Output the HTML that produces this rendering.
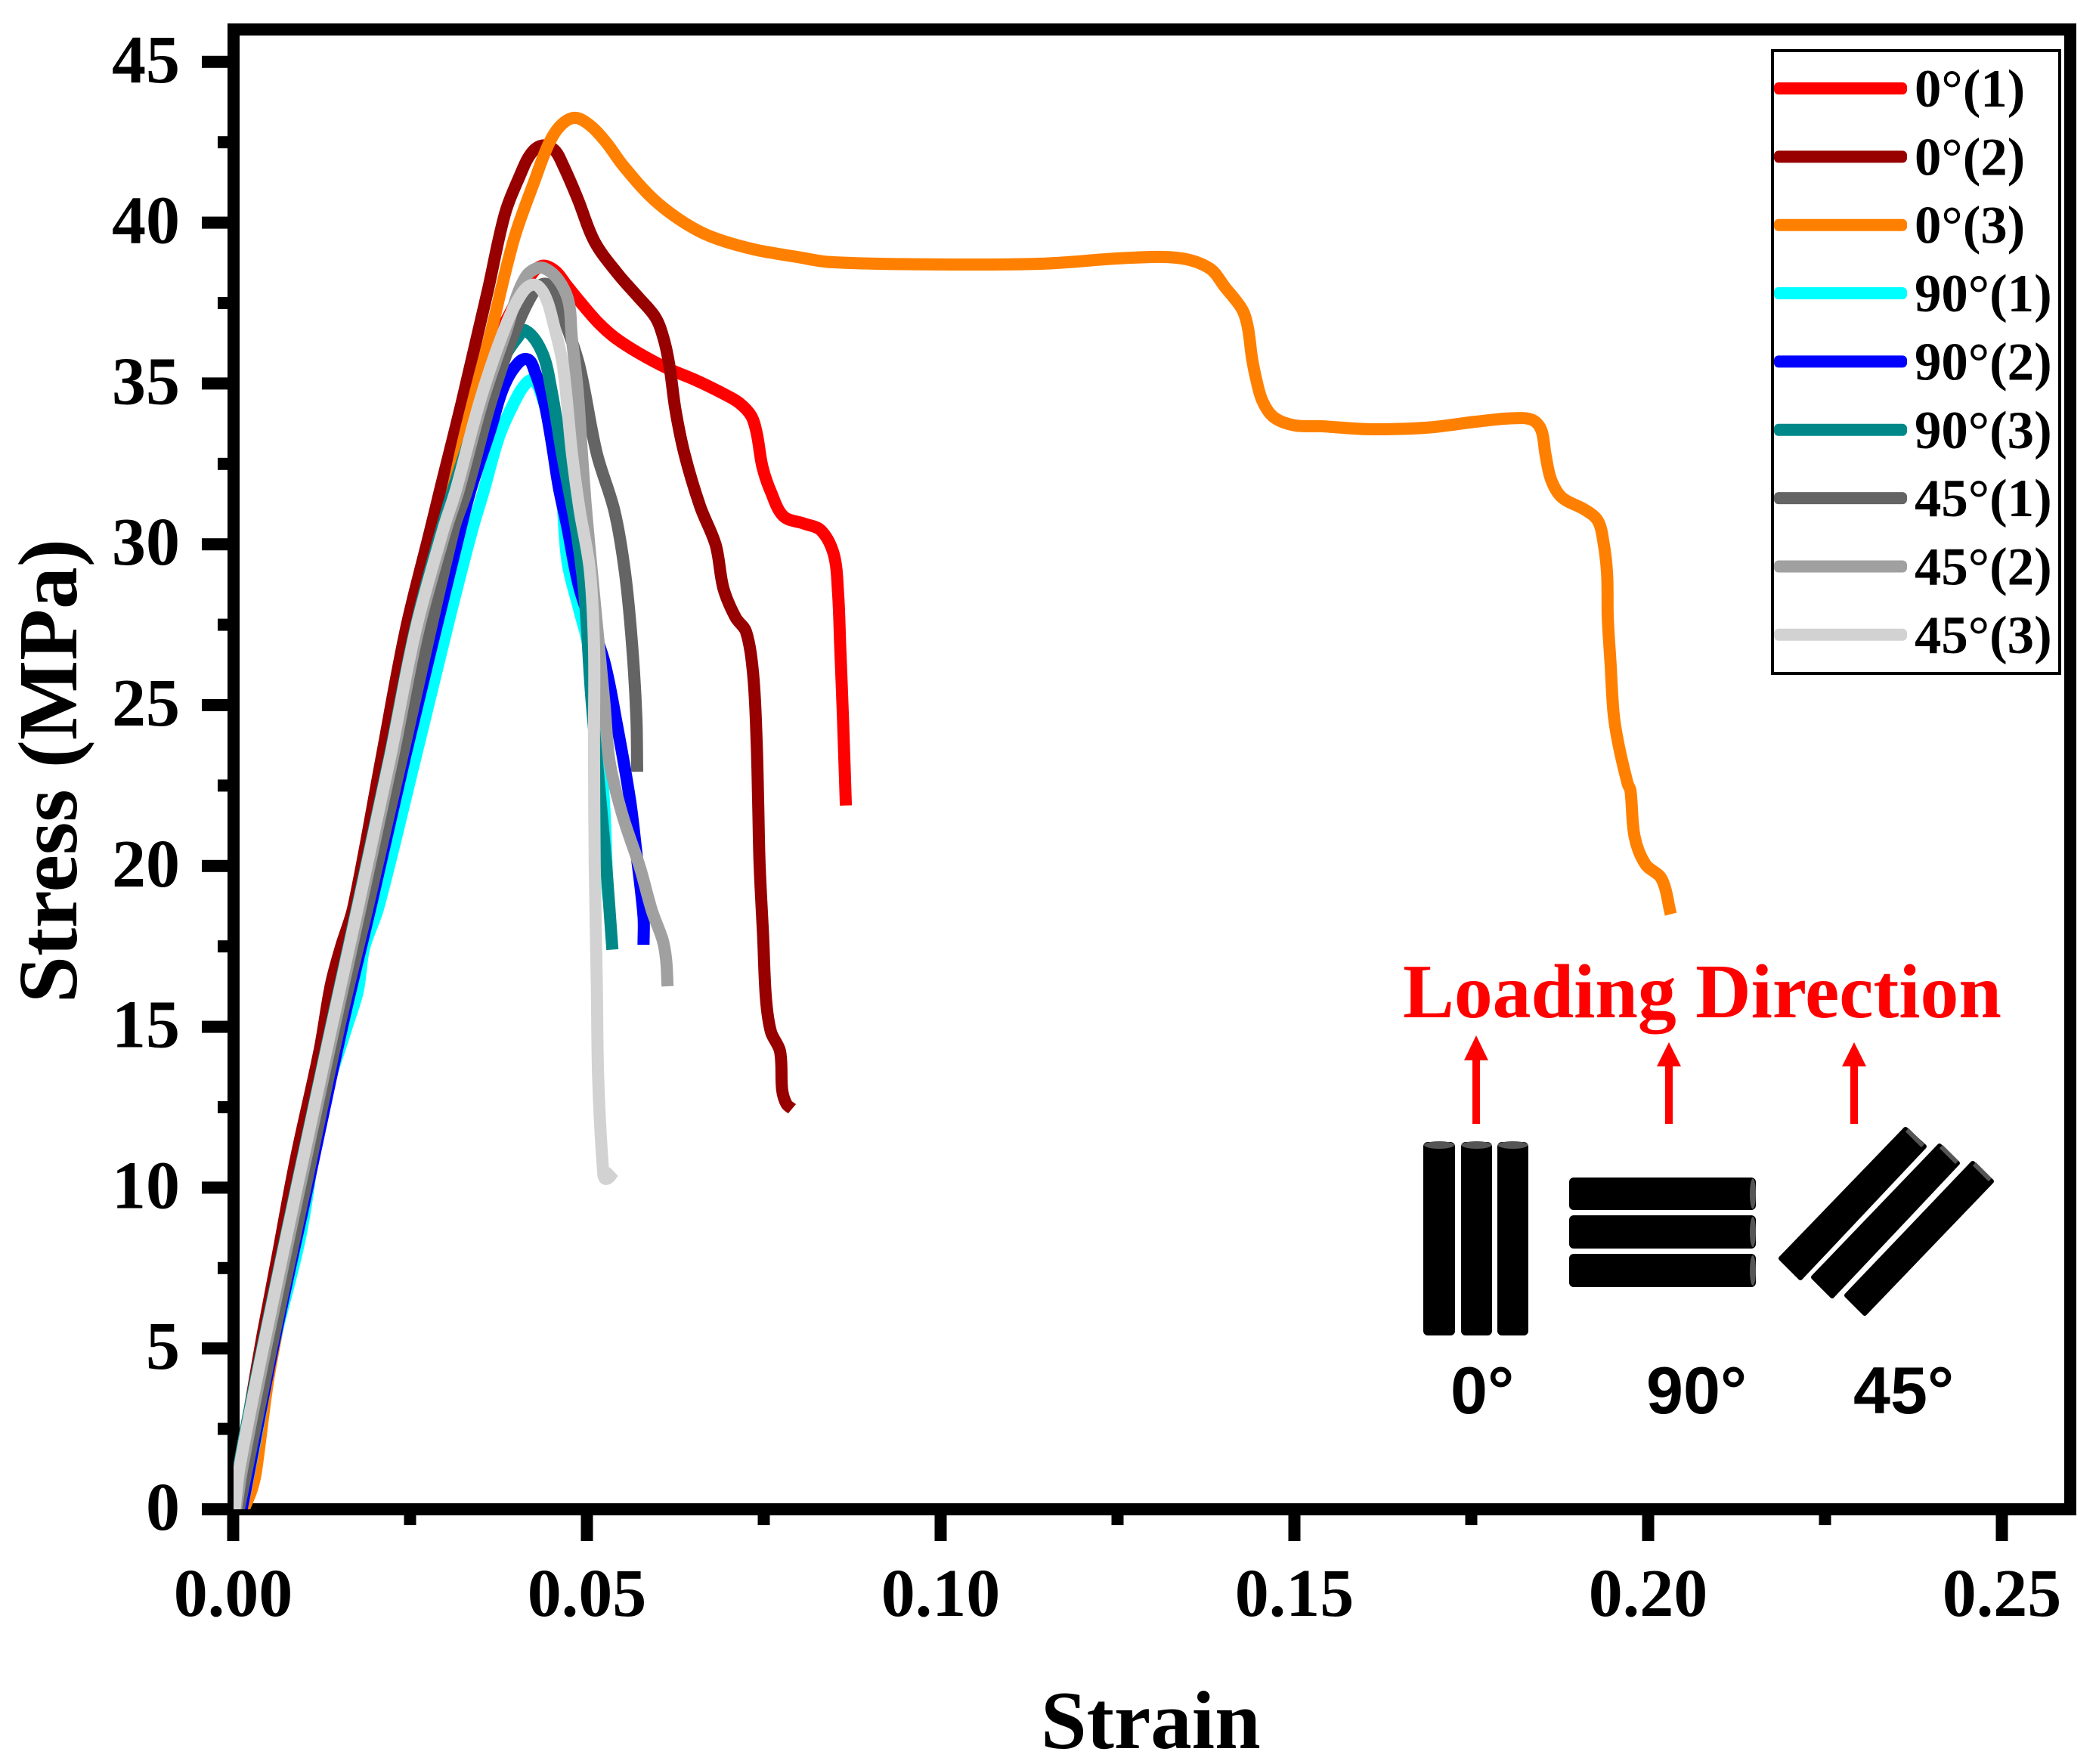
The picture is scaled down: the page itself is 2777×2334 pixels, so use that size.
<!DOCTYPE html>
<html lang="en">
<head>
<meta charset="utf-8">
<title>Stress-strain curves</title>
<style>
html,body{margin:0;padding:0;background:#fff;width:2777px;height:2334px;overflow:hidden}
svg{display:block}
text{font-family:"Liberation Serif",serif;font-weight:bold;fill:#000}
.sans{font-family:"Liberation Sans",sans-serif}
</style>
</head>
<body>
<svg id="chart" xmlns="http://www.w3.org/2000/svg" width="2777" height="2334" viewBox="0 0 2777 2334">
  <rect x="0" y="0" width="2777" height="2334" fill="#fff"/>
  <defs>
    <clipPath id="plot-clip"><rect x="309" y="39" width="2430" height="1958"/></clipPath>
  </defs>
  <g id="axes"></g>
  <g id="curves" clip-path="url(#plot-clip)"></g>
  <g id="legend"></g>
  <text x="1377" y="2313" font-size="109">Strain</text>
  <text transform="translate(101,1020) rotate(-90)" text-anchor="middle" font-size="111.5">Stress (MPa)</text>

  <g>
    <text x="1856" y="1346" font-size="101.7" style="fill:#ff0000">Loading Direction</text>
    <g fill="#ff0000">
      <rect x="1948" y="1400" width="10" height="87"/><polygon points="1953,1370 1969,1403 1937,1403"/>
    </g>
    <g fill="#ff0000">
      <rect x="2203" y="1408" width="10" height="79"/><polygon points="2208,1379 2224,1411 2192,1411"/>
    </g>
    <g fill="#ff0000">
      <rect x="2448" y="1408" width="10" height="79"/><polygon points="2453,1379 2469,1411 2437,1411"/>
    </g>
    <g>
      <rect x="1883" y="1511" width="42" height="256" rx="6" fill="#000"/>
      <rect x="1933" y="1511" width="41" height="256" rx="6" fill="#000"/>
      <rect x="1981" y="1511" width="41" height="256" rx="6" fill="#000"/>
      <ellipse cx="1904" cy="1515" rx="20" ry="5" fill="#555"/>
      <ellipse cx="1953.5" cy="1515" rx="20" ry="5" fill="#555"/>
      <ellipse cx="2001.5" cy="1515" rx="20" ry="5" fill="#555"/>
    </g>
    <g>
      <rect x="2076" y="1558" width="247" height="43" rx="6" fill="#000"/>
      <rect x="2076" y="1608" width="247" height="44" rx="6" fill="#000"/>
      <rect x="2076" y="1659" width="247" height="44" rx="6" fill="#000"/>
      <ellipse cx="2319" cy="1579.5" rx="4" ry="20" fill="#555"/>
      <ellipse cx="2319" cy="1630" rx="4" ry="20" fill="#555"/>
      <ellipse cx="2319" cy="1681" rx="4" ry="20" fill="#555"/>
    </g>
    <g stroke-linejoin="round">
      <polygon points="2521,1494 2546,1517 2382,1691 2356,1665" fill="#000" stroke="#000" stroke-width="6"/>
      <polygon points="2566,1516 2590,1539 2424,1715 2399,1690" fill="#000" stroke="#000" stroke-width="6"/>
      <polygon points="2610,1539 2635,1563 2467,1738 2443,1714" fill="#000" stroke="#000" stroke-width="6"/>
      <line x1="2523" y1="1495" x2="2544" y2="1516" stroke="#555" stroke-width="6"/>
      <line x1="2568" y1="1517" x2="2589" y2="1538" stroke="#555" stroke-width="6"/>
      <line x1="2612" y1="1540" x2="2633" y2="1561" stroke="#555" stroke-width="6"/>
    </g>
    <text class="sans" x="1919" y="1870" font-size="88">0°</text>
    <text class="sans" x="2178" y="1870" font-size="88">90°</text>
    <text class="sans" x="2452" y="1870" font-size="88">45°</text>
  </g>
</svg>
<script>
// ---- axis tick data ----
const xMajorTicks = [0, 0.05, 0.10, 0.15, 0.20, 0.25];
const xTickLabels = ["0.00", "0.05", "0.10", "0.15", "0.20", "0.25"];
const xMinorTicks = [0.025, 0.075, 0.125, 0.175, 0.225];
const yMajorTicks = [0, 5, 10, 15, 20, 25, 30, 35, 40, 45];
const yTickLabels = ["0", "5", "10", "15", "20", "25", "30", "35", "40", "45"];
const yMinorTicks = [2.5, 7.5, 12.5, 17.5, 22.5, 27.5, 32.5, 37.5, 42.5];

// ---- series data ----
const seriesNames = ["0°(1)", "0°(2)", "0°(3)", "90°(1)", "90°(2)", "90°(3)", "45°(1)", "45°(2)", "45°(3)"];
const seriesColors = ["#ff0000", "#980000", "#ff8000", "#00ffff", "#0000ff", "#008888", "#646464", "#a0a0a0", "#d2d2d2"];

const strain01 = [0.0002,0.0008,0.0041,0.0089,0.0138,0.0176,0.0221,0.0257,0.0297,0.0335,0.0365,0.0388,0.0405,0.0415,0.0435,0.0455,0.0471,0.0491,0.0516,0.054,0.0573,0.0613,0.0654,0.0695,0.0715,0.0732,0.074,0.0748,0.076,0.0778,0.0806,0.0831,0.0849,0.0855,0.0858,0.0862,0.0866];
const stress01 = [0,1.3,5,10,15,18.8,23.4,27.35,30.9,34.3,36.1,37.05,37.76,38.18,38.65,38.5,38.06,37.52,36.89,36.42,35.95,35.48,35.1,34.66,34.4,34,33.46,32.42,31.63,30.87,30.65,30.43,29.68,28.48,26.83,24.58,21.88];

const strain02 = [0,0.0023,0.0042,0.0063,0.0088,0.0122,0.0138,0.0152,0.017,0.021,0.0244,0.0279,0.0292,0.0323,0.036,0.0384,0.0405,0.0421,0.0437,0.0454,0.0466,0.0487,0.0511,0.0544,0.0572,0.0597,0.0609,0.0617,0.0625,0.0638,0.066,0.0682,0.0693,0.071,0.0725,0.0735,0.074,0.0742,0.0744,0.0749,0.0753,0.076,0.0773,0.0776,0.0782,0.079];
const stress02 = [0,3.05,5.47,7.9,10.83,14.26,16.3,17.46,18.73,23.4,27.35,30.47,31.65,34.4,37.9,40.26,41.45,42.15,42.4,42.26,41.8,40.74,39.4,38.4,37.7,37.05,36.35,35.5,34.2,32.8,31.18,29.98,28.63,27.73,27.28,25.94,23.83,22.04,20.09,17.83,15.9,14.85,14.24,13.04,12.6,12.45];

const strain03 = [0.0015,0.0026,0.0032,0.005,0.0071,0.0087,0.02,0.0321,0.0366,0.0397,0.0426,0.0446,0.0462,0.0482,0.0503,0.0527,0.0552,0.0593,0.0634,0.0675,0.0736,0.0798,0.0846,0.1002,0.1148,0.1261,0.1337,0.138,0.1402,0.1426,0.1434,0.144,0.1446,0.1455,0.1471,0.15,0.1539,0.1601,0.1654,0.1699,0.1756,0.1809,0.1836,0.1849,0.1855,0.1863,0.1878,0.1911,0.1929,0.1937,0.1942,0.1943,0.1947,0.1951,0.1957,0.1971,0.1975,0.1981,0.1996,0.2019,0.2032];
const stress03 = [0,0.6,1.15,4.1,6.5,8.15,20.3,32.8,36.75,39.5,41.3,42.45,43,43.26,43.05,42.5,41.75,40.75,40.05,39.57,39.17,38.93,38.77,38.7,38.73,38.9,38.9,38.58,37.99,37.31,36.77,35.8,35.13,34.45,33.95,33.7,33.67,33.58,33.59,33.65,33.81,33.92,33.87,33.55,32.78,32,31.46,31.07,30.73,30.05,29.08,27.71,26.25,24.79,23.9,22.56,22.35,20.9,20.06,19.6,18.5];

const strain901 = [0.0012,0.003,0.0056,0.0095,0.0124,0.0159,0.0176,0.0185,0.0205,0.0258,0.0306,0.0338,0.0354,0.0376,0.0397,0.0413,0.0425,0.0438,0.045,0.0462,0.0472,0.049,0.0502,0.0523,0.0529,0.0531];
const stress901 = [0,2,5,8.5,12.35,14.9,16.1,17.45,18.7,23.4,27.73,30.47,31.65,33.36,34.4,34.98,35.1,34.5,33.5,32.38,29.53,27.9,26.83,22.35,19.34,18.9];

const strain902 = [0.0012,0.0056,0.0105,0.0154,0.0195,0.0243,0.0321,0.0337,0.0364,0.038,0.0397,0.0415,0.0427,0.044,0.045,0.046,0.0472,0.049,0.0524,0.0542,0.0561,0.057,0.058,0.058];
const stress902 = [0,5,10,15,18.8,23.4,30.47,31.8,33.6,34.77,35.48,35.76,35.33,34.4,33.2,31.8,30.57,28.6,26.39,24.44,22.04,20.4,18.44,17.55];

const strain903 = [0.0003,0.0008,0.0041,0.0089,0.0138,0.0176,0.0221,0.0257,0.03,0.033,0.0365,0.0388,0.0401,0.0413,0.0437,0.045,0.0465,0.0486,0.0497,0.0506,0.0518,0.0527,0.0536];
const stress903 = [0,1.3,5,10,15,18.8,23.4,27.35,30.9,33,35.2,36,36.4,36.65,35.95,34.77,32.8,30.3,28.3,25.3,22.35,20.1,17.4];

const strain451 = [0.0008,0.0054,0.0102,0.015,0.0191,0.0239,0.0312,0.0331,0.0364,0.0396,0.0425,0.0442,0.0454,0.0466,0.0489,0.0514,0.0539,0.0554,0.0564,0.057,0.0571];
const stress451 = [0,5,10,15,18.8,23.4,30.47,31.7,34.4,36.5,37.85,38.1,37.76,37.1,35.57,32.82,31.03,29.1,26.83,24.58,22.93];

const strain452 = [0.0004,0.0013,0.0046,0.0094,0.0143,0.0181,0.0226,0.0262,0.0301,0.0319,0.0352,0.0384,0.0413,0.044,0.0471,0.0479,0.0487,0.0493,0.0498,0.0504,0.0525,0.0532,0.055,0.0575,0.0592,0.0607,0.0612,0.0614];
const stress452 = [0,1.3,5,10,15,18.8,23.4,27.35,30.47,31.7,34.4,36.5,38.3,38.58,37.76,36.35,34.77,32.82,31.3,29.83,25,23.24,21.6,19.95,18.6,17.7,17.08,16.26];

const strain453 = [0.0002,0.0009,0.0042,0.009,0.0139,0.0177,0.0222,0.0258,0.0297,0.0315,0.0348,0.038,0.0405,0.0424,0.044,0.0454,0.0466,0.0479,0.049,0.0504,0.051,0.051,0.0511,0.0514,0.0516,0.0523,0.0527,0.0538];
const stress453 = [0,1.3,5,10,15,18.8,23.4,27.35,30.47,31.7,34.4,36.5,37.7,38.07,37.76,36.75,35.57,32.8,31.03,29.23,26.83,23.83,20.09,16.34,13.35,10.5,10.27,10.5];

const strainSeries = [strain01, strain02, strain03, strain901, strain902, strain903, strain451, strain452, strain453];
const stressSeries = [stress01, stress02, stress03, stress901, stress902, stress903, stress451, stress452, stress453];

// ---- axis functions ----
function xScale(v) { return 308.5 + 9360 * v; }
function yScale(v) { return 1997 - 42.56 * v; }

const NS = "http://www.w3.org/2000/svg";
function make(tag, parent, attrs) {
  const el = document.createElementNS(NS, tag);
  for (const k in attrs) el.setAttribute(k, attrs[k]);
  parent.appendChild(el);
  return el;
}
const axes = document.getElementById("axes");
const curves = document.getElementById("curves");
const legend = document.getElementById("legend");

// frame
const leftSpine = make("rect", axes, {x: 301, y: 31, width: 16, height: 1974, fill: "#000"});


const bottomSpine = make("rect", axes, {x: 301, y: 1989, width: 2446, height: 16, fill: "#000"});


const topSpine = make("rect", axes, {x: 301, y: 31, width: 2446, height: 16, fill: "#000"});


const rightSpine = make("rect", axes, {x: 2731, y: 31, width: 16, height: 1974, fill: "#000"});



// x ticks
xMajorTicks.forEach(function (v, i) {
  const t = make("rect", axes, {x: xScale(v) - 8, y: 2005, width: 16, height: 34, fill: "#000"});
  
  
  const l = make("text", axes, {x: xScale(v), y: 2138, "text-anchor": "middle", "font-size": 90});
  l.textContent = xTickLabels[i];
  
  
});
xMinorTicks.forEach(function (v) {
  const t = make("rect", axes, {x: xScale(v) - 8, y: 2005, width: 16, height: 13, fill: "#000"});
  
  
});

// y ticks
yMajorTicks.forEach(function (v, i) {
  const t = make("rect", axes, {x: 267, y: yScale(v) - 8, width: 34, height: 16, fill: "#000"});
  
  
  const l = make("text", axes, {x: 238, y: yScale(v) + 27, "text-anchor": "end", "font-size": 90});
  l.textContent = yTickLabels[i];
  
  
});
yMinorTicks.forEach(function (v) {
  const t = make("rect", axes, {x: 288, y: yScale(v) - 8, width: 13, height: 16, fill: "#000"});
  
  
});

// smooth path through the data points; handle length follows segment length
function curvePath(xs, ys) {
  const p = xs.map(function (x, i) { return [xScale(x), yScale(ys[i])]; });
  function unit(a, b) {
    const dx = b[0] - a[0], dy = b[1] - a[1];
    const n = Math.hypot(dx, dy) || 1;
    return [dx / n, dy / n];
  }
  let d = "M" + p[0][0].toFixed(1) + " " + p[0][1].toFixed(1);
  for (let i = 0; i < p.length - 1; i++) {
    const a = p[Math.max(i - 1, 0)], b = p[i], c = p[i + 1], e = p[Math.min(i + 2, p.length - 1)];
    const t1 = unit(a, c), t2 = unit(b, e);
    const len = Math.hypot(c[0] - b[0], c[1] - b[1]) / 3;
    const c1x = b[0] + t1[0] * len, c1y = b[1] + t1[1] * len;
    const c2x = c[0] - t2[0] * len, c2y = c[1] - t2[1] * len;
    d += "C" + c1x.toFixed(1) + " " + c1y.toFixed(1) + " " + c2x.toFixed(1) + " " + c2y.toFixed(1) + " " + c[0].toFixed(1) + " " + c[1].toFixed(1);
  }
  return d;
}

strainSeries.forEach(function (xs, i) {
  const path = make("path", curves, {
    d: curvePath(xs, stressSeries[i]),
    fill: "none",
    stroke: seriesColors[i],
    "stroke-width": 16,
    "stroke-linejoin": "round",
    "stroke-linecap": "butt"
  });
  
  
});

// legend
const legendBox = make("rect", legend, {x: 2345, y: 67, width: 380, height: 824, fill: "#fff", stroke: "#000", "stroke-width": 4});


seriesNames.forEach(function (name, i) {
  const rowY = 117 + i * 90.35;
  const swatch = make("rect", legend, {x: 2347, y: rowY - 8, width: 176, height: 16, rx: 6, fill: seriesColors[i]});
  
  
  const label = make("text", legend, {x: 2533, y: rowY + 24, "font-size": 70.8});
  label.textContent = name;
  
  
});
</script>
</body>
</html>
